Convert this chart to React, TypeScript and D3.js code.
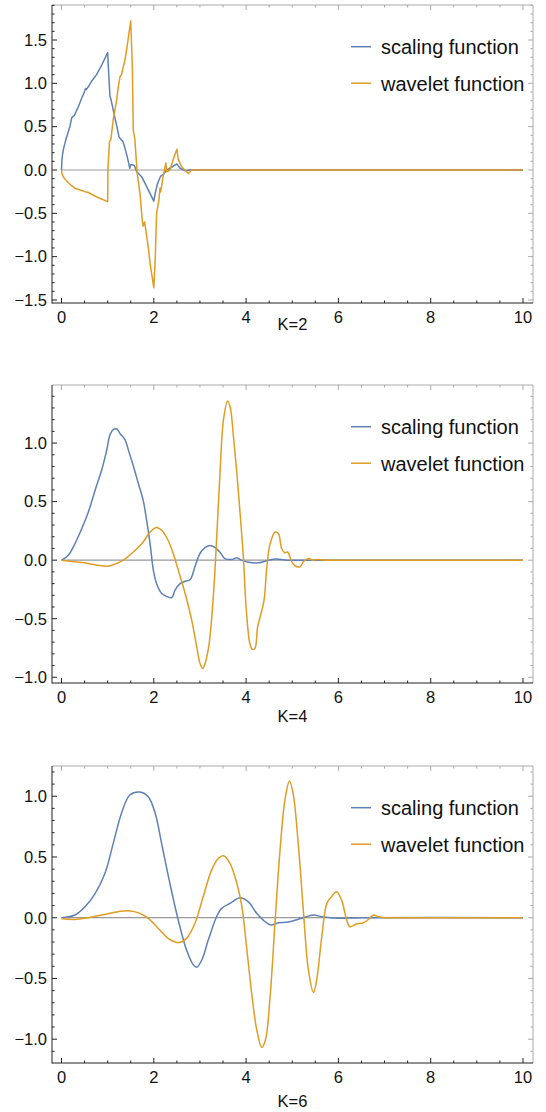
import React from 'react'
import { scaleLinear, line, curveLinear, curveCatmullRom, range, format } from 'd3'

// K=2
const k2Scaling: [number, number][] = [
  [0, 0], [0.01, 0.12], [0.025, 0.19], [0.05, 0.26], [0.076, 0.31], [0.1, 0.36], [0.134, 0.42],
  [0.18, 0.5], [0.22, 0.6], [0.25, 0.62], [0.28, 0.63], [0.32, 0.68], [0.365, 0.73], [0.43, 0.82],
  [0.495, 0.9], [0.52, 0.94], [0.54, 0.93], [0.58, 0.96], [0.66, 1.03], [0.76, 1.1], [0.88, 1.22],
  [1.0, 1.355], [1.015, 1.19], [1.05, 0.85], [1.07, 0.82], [1.145, 0.63], [1.2, 0.5], [1.245, 0.385],
  [1.29, 0.35], [1.33, 0.33], [1.376, 0.25], [1.43, 0.14], [1.48, 0.02], [1.5, 0.06], [1.55, 0.06],
  [1.58, 0.05], [1.63, -0.02], [1.74, -0.08], [1.88, -0.23], [2.0, -0.36], [2.03, -0.27], [2.07, -0.18],
  [2.1, -0.13], [2.15, -0.07], [2.21, -0.05], [2.28, 0], [2.35, 0.02], [2.5, 0.07], [2.57, 0.02],
  [2.68, -0.01], [2.75, 0], [10, 0],
]
const k2Wavelet: [number, number][] = [
  [0, 0], [0.01, -0.04], [0.04, -0.08], [0.1, -0.12], [0.15, -0.15], [0.22, -0.18], [0.29, -0.21],
  [0.4, -0.23], [0.51, -0.25], [0.58, -0.26], [0.65, -0.28], [0.8, -0.32], [1.0, -0.365], [1.005, 0.0],
  [1.04, 0.33], [1.07, 0.35], [1.12, 0.58], [1.195, 0.81], [1.23, 0.96], [1.27, 1.08], [1.3, 1.1],
  [1.39, 1.31], [1.5, 1.72], [1.535, 1.19], [1.555, 0.46], [1.59, 0.35], [1.64, -0.04], [1.7, -0.27],
  [1.75, -0.58], [1.77, -0.65], [1.8, -0.6], [1.87, -0.85], [1.92, -1.08], [2.0, -1.36], [2.03, -1.04],
  [2.06, -0.5], [2.11, -0.35], [2.135, -0.21], [2.15, -0.25], [2.2, -0.08], [2.26, 0.08], [2.28, -0.02],
  [2.35, 0.0], [2.42, 0.12], [2.5, 0.24], [2.53, 0.12], [2.6, 0.04], [2.71, -0.02], [2.75, -0.04],
  [2.82, 0], [10, 0],
]

// K=4
const k4Scaling: [number, number][] = [
  [0, 0], [0.148, 0.043], [0.29, 0.14], [0.44, 0.27], [0.58, 0.41], [0.73, 0.6], [0.87, 0.77],
  [0.98, 0.94], [1.05, 1.07], [1.12, 1.115], [1.2, 1.12], [1.27, 1.08], [1.375, 1.03], [1.45, 0.94],
  [1.56, 0.8], [1.665, 0.655], [1.77, 0.51], [1.845, 0.34], [1.92, 0.14], [1.99, -0.085], [2.06, -0.2],
  [2.17, -0.285], [2.28, -0.31], [2.39, -0.32], [2.46, -0.256], [2.57, -0.2], [2.68, -0.18],
  [2.79, -0.165], [2.89, -0.057], [3.0, 0.057], [3.11, 0.108], [3.22, 0.125], [3.33, 0.108],
  [3.43, 0.07], [3.54, 0.014], [3.69, 0.006], [3.8, 0.02], [3.9, 0], [4.05, -0.017], [4.27, -0.023],
  [4.41, -0.009], [4.63, 0.009], [4.9, 0], [6, 0], [10, 0],
]
const k4Wavelet: [number, number][] = [
  [0, 0], [0.29, -0.014], [0.58, -0.028], [0.83, -0.046], [1.01, -0.051], [1.16, -0.034], [1.34, 0],
  [1.52, 0.057], [1.74, 0.14], [1.92, 0.24], [2.06, 0.28], [2.17, 0.256], [2.31, 0.17], [2.42, 0.057],
  [2.53, -0.085], [2.68, -0.285], [2.82, -0.51], [2.93, -0.74], [3.0, -0.88], [3.06, -0.925],
  [3.12, -0.87], [3.2, -0.71], [3.29, -0.31], [3.36, 0.17], [3.43, 0.71], [3.51, 1.2], [3.6, 1.36],
  [3.66, 1.3], [3.72, 1.08], [3.8, 0.74], [3.87, 0.4], [3.94, 0.03], [4.0, -0.4], [4.08, -0.71],
  [4.13, -0.76], [4.19, -0.755], [4.25, -0.57], [4.34, -0.43], [4.39, -0.34], [4.45, -0.057],
  [4.52, 0.14], [4.63, 0.24], [4.7, 0.228], [4.77, 0.1], [4.84, 0.063], [4.9, 0.07], [4.99, -0.014],
  [5.07, -0.05], [5.17, -0.057], [5.24, -0.014], [5.35, 0.014], [5.45, 0], [5.56, 0.006], [5.7, 0],
  [6.5, 0], [10, 0],
]

// K=6
const k6Scaling: [number, number][] = [
  [0, 0], [0.29, 0.022], [0.51, 0.09], [0.73, 0.2], [0.94, 0.364], [1.12, 0.61], [1.3, 0.86],
  [1.48, 1.01], [1.7, 1.035], [1.88, 0.995], [2.03, 0.86], [2.17, 0.61], [2.35, 0.28], [2.53, -0.02],
  [2.71, -0.266], [2.86, -0.39], [2.93, -0.408], [3.04, -0.348], [3.18, -0.184], [3.36, 0.008],
  [3.47, 0.077], [3.65, 0.118], [3.87, 0.164], [4.05, 0.13], [4.23, 0.036], [4.41, -0.033],
  [4.54, -0.06], [4.7, -0.041], [4.91, -0.036], [5.2, -0.005], [5.46, 0.022], [5.64, 0.008],
  [6.0, -0.005], [6.5, 0], [10, 0],
]
const k6Wavelet: [number, number][] = [
  [0, -0.008], [0.29, -0.014], [0.58, 0], [0.94, 0.027], [1.23, 0.05], [1.45, 0.058], [1.7, 0.036],
  [1.88, -0.005], [2.1, -0.088], [2.31, -0.17], [2.53, -0.205], [2.71, -0.17], [2.89, -0.047],
  [3.07, 0.173], [3.25, 0.39], [3.4, 0.49], [3.51, 0.51], [3.65, 0.447], [3.8, 0.282], [3.91, 0.09],
  [4.01, -0.24], [4.12, -0.62], [4.23, -0.92], [4.34, -1.068], [4.42, -1.005], [4.52, -0.65],
  [4.63, -0.02], [4.73, 0.53], [4.84, 0.967], [4.94, 1.126], [5.02, 1.02], [5.13, 0.61], [5.24, 0.063],
  [5.35, -0.43], [5.46, -0.616], [5.53, -0.51], [5.64, -0.156], [5.75, 0.118], [5.85, 0.173],
  [5.96, 0.214], [6.07, 0.145], [6.18, -0.02], [6.25, -0.074], [6.39, -0.052], [6.54, -0.041],
  [6.65, -0.014], [6.76, 0.022], [6.86, 0.008], [7.01, 0], [7.2, 0], [8, 0], [10, 0],
]

const xTicks = [0, 2, 4, 6, 8, 10]
const yTicksK2 = [-1.5, -1, -0.5, 0, 0.5, 1, 1.5]
const yTicksK46 = [-1, -0.5, 0, 0.5, 1]
const legendLabels = ['scaling function', 'wavelet function']
const panelLabels = ['K=2', 'K=4', 'K=6']

const BLUE = '#5e81b5'
const ORANGE = '#e19c24'
const FONT = '"Liberation Sans", Arial, sans-serif'

const panels = [
  { top: 5, bottom: 303, yDomain: [-1.535, 1.904], yTicks: yTicksK2, label: panelLabels[0], labelY: 330, scaling: k2Scaling, wavelet: k2Wavelet, smooth: false },
  { top: 385, bottom: 683, yDomain: [-1.049, 1.496], yTicks: yTicksK46, label: panelLabels[1], labelY: 722, scaling: k4Scaling, wavelet: k4Wavelet, smooth: true },
  { top: 766, bottom: 1063, yDomain: [-1.196, 1.249], yTicks: yTicksK46, label: panelLabels[2], labelY: 1107, scaling: k6Scaling, wavelet: k6Wavelet, smooth: true },
]

const LEFT = 52
const RIGHT = 533

function Panel({ p }: { p: typeof panels[number] }) {
  const x = scaleLinear().domain([-0.206, 10.217]).range([LEFT, RIGHT])
  const y = scaleLinear().domain(p.yDomain).range([p.bottom, p.top])
  const mk = line<[number, number]>()
    .x(d => x(d[0]))
    .y(d => y(d[1]))
    .curve(p.smooth ? curveCatmullRom.alpha(0.5) : curveLinear)
  const fmt = format('.1f')
  const xMinor = range(0, 10.01, 0.5).filter(v => v % 2 !== 0)
  const yMinor = range(Math.ceil(p.yDomain[0] * 10), Math.floor(p.yDomain[1] * 10) + 1)
    .map(v => v / 10)
    .filter(v => Math.abs(v * 2 - Math.round(v * 2)) > 1e-6)
  const dark = '#222'
  const light = '#aaa'
  return (
    <g>
      {/* zero axis */}
      <line x1={x(0)} x2={x(10)} y1={y(0)} y2={y(0)} stroke="#999" strokeWidth={1.2} />
      <path d={mk(p.scaling) || ''} fill="none" stroke={BLUE} strokeWidth={1.5} strokeLinejoin="round" />
      <path d={mk(p.wavelet) || ''} fill="none" stroke={ORANGE} strokeWidth={1.5} strokeLinejoin="round" />

      {/* frame */}
      <line x1={LEFT} x2={RIGHT} y1={p.top} y2={p.top} stroke={light} />
      <line x1={RIGHT} x2={RIGHT} y1={p.top} y2={p.bottom} stroke={light} />
      <line x1={LEFT} x2={LEFT} y1={p.top} y2={p.bottom + 0.5} stroke={dark} />
      <line x1={LEFT} x2={RIGHT} y1={p.bottom} y2={p.bottom} stroke={dark} />

      {xTicks.map(t => (
        <g key={'xt' + t}>
          <line x1={x(t)} x2={x(t)} y1={p.bottom} y2={p.bottom - 5} stroke={dark} />
          <line x1={x(t)} x2={x(t)} y1={p.top} y2={p.top + 5} stroke={light} />
          <text x={x(t)} y={p.bottom + 19.5} textAnchor="middle" fontSize={16.5} fontFamily={FONT} fill="#111">{t}</text>
        </g>
      ))}
      {xMinor.map(t => (
        <g key={'xm' + t}>
          <line x1={x(t)} x2={x(t)} y1={p.bottom} y2={p.bottom - 2.5} stroke={dark} />
          <line x1={x(t)} x2={x(t)} y1={p.top} y2={p.top + 2.5} stroke={light} />
        </g>
      ))}
      {p.yTicks.map(t => (
        <g key={'yt' + t}>
          <line x1={LEFT} x2={LEFT + 5} y1={y(t)} y2={y(t)} stroke={dark} />
          <line x1={RIGHT} x2={RIGHT - 5} y1={y(t)} y2={y(t)} stroke={light} />
          <text x={47} y={y(t) + 5.8} textAnchor="end" fontSize={16.5} fontFamily={FONT} fill="#111">{fmt(t)}</text>
        </g>
      ))}
      {yMinor.map(t => (
        <g key={'ym' + t}>
          <line x1={LEFT} x2={LEFT + 2.5} y1={y(t)} y2={y(t)} stroke={dark} />
          <line x1={RIGHT} x2={RIGHT - 2.5} y1={y(t)} y2={y(t)} stroke={light} />
        </g>
      ))}

      {/* legend */}
      {legendLabels.map((lab, i) => {
        const ly = p.top + 41.7 + i * 36.5
        return (
          <g key={lab}>
            <line x1={351} x2={371} y1={ly} y2={ly} stroke={i === 0 ? BLUE : ORANGE} strokeWidth={1.5} />
            <text x={381} y={ly + 7.3} fontSize={20} fontFamily={FONT} fill="#111">{lab}</text>
          </g>
        )
      })}

      <text x={(LEFT + RIGHT) / 2} y={p.labelY} textAnchor="middle" fontSize={16.5} fontFamily={FONT} fill="#111">{p.label}</text>
    </g>
  )
}

export default function App() {
  return (
    <svg width={546} height={1112} style={{ position: 'absolute', left: 0, top: 0, background: '#fff' }}>
      {panels.map(p => <Panel key={p.label} p={p} />)}
    </svg>
  )
}
